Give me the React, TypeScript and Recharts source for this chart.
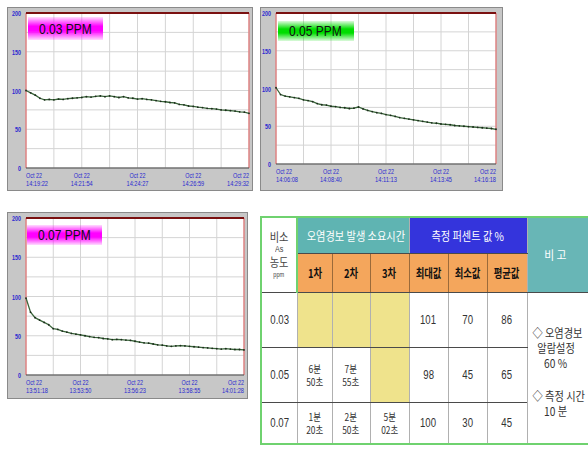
import React from 'react';
import { LineChart, Line, XAxis, YAxis, CartesianGrid, ReferenceLine } from 'recharts';

// readings (%), 49 samples across each 10 minute window
const ppm03 = [
  100, 97, 94, 90, 88, 88.5, 88, 89, 88.5, 89.5, 90, 90.5, 91, 92, 91.5, 92.5, 93,
  92, 93, 92, 91, 92, 90.5, 90, 89, 89.5, 88.5, 88, 87, 86, 85.5, 84.5, 84, 82,
  81.5, 80, 79.5, 78.5, 78, 77, 76.5, 76, 75, 74.5, 74, 73.5, 72.5, 72, 70.5,
];
const ppm05 = [
  101, 92, 90, 89, 88, 87, 85, 84, 82.5, 80, 78.5, 78, 76.5, 76, 75, 74.5, 73.5,
  74, 75.5, 73, 71, 69.5, 68, 67, 65.5, 64.5, 63, 61.5, 60.5, 59.5, 58.5, 57.5,
  56.5, 55.5, 54.5, 54, 53, 52.5, 52, 51, 50.5, 50, 49.5, 49, 48.5, 48, 47.5, 47, 46,
];
const ppm07 = [
  98, 80, 73, 70, 67, 64, 59, 58, 56, 54.5, 53, 52, 51, 50, 49, 48, 47.5, 46.5,
  46, 45, 45.5, 45, 44.5, 44, 43, 42, 41, 40.5, 39.5, 38.5, 38, 37, 36.5, 37,
  37.5, 37, 36.5, 36, 35.5, 35, 34.5, 34, 33.5, 33, 33.5, 33, 32.5, 32.5, 32,
];

const dateLabel = 'Oct 22';
const times03 = ['14:19:22', '14:21:54', '14:24:27', '14:26:59', '14:29:32'];
const times05 = ['14:06:08', '14:08:40', '14:11:13', '14:13:45', '14:16:18'];
const times07 = ['13:51:18', '13:53:50', '13:56:23', '13:58:55', '14:01:28'];

const yTicks = [0, 25, 50, 75, 100, 125, 150, 175, 200];
const xGrid = [0, 6, 12, 18, 24, 30, 36, 42, 48];

// table
const concentrations = ['0.03', '0.05', '0.07'];
const alarmTimes: (string[] | null)[][] = [
  [null, null, null],
  [['6분', '50초'], ['7분', '55초'], null],
  [['1분', '20초'], ['2분', '50초'], ['5분', '02초']],
];
const maxVals = [101, 98, 100];
const minVals = [70, 45, 30];
const avgVals = [86, 65, 45];
const stageNames = ['1차', '2차', '3차'];
const statNames = ['최대값', '최소값', '평균값'];

const TICK_FONT = '"Liberation Sans", Arial, sans-serif';
const KR_FONT = '"Noto Sans CJK KR", sans-serif';

function XTick({ x, y, payload, times }: any) {
  const v = payload.value;
  if (v % 12 !== 0) return <g />;
  const anchor = v === 0 ? 'start' : v === 48 ? 'end' : 'middle';
  return (
    <g fill="#2b2bd0" fontSize={7} fontFamily={TICK_FONT}>
      <text x={x} y={y + 8} textAnchor={anchor} textLength={16} lengthAdjust="spacingAndGlyphs">{dateLabel}</text>
      <text x={x} y={y + 15.5} textAnchor={anchor} textLength={22} lengthAdjust="spacingAndGlyphs">{times[v / 12]}</text>
    </g>
  );
}

function YTick({ x, y, payload }: any) {
  if (payload.value % 50 !== 0) return <g />;
  const s = String(payload.value);
  return (
    <text x={x - 3} y={y + 3} textAnchor="end" fill="#2b2bd0" fontSize={8} fontWeight="bold"
      fontFamily={TICK_FONT} textLength={s.length * 3} lengthAdjust="spacingAndGlyphs">
      {s}
    </text>
  );
}

function Panel({ values, times, label, tint, box, plot, tag }: any) {
  const data = values.map((v: number, i: number) => ({ i, v }));
  return (
    <div style={{
      position: 'absolute', left: box.x, top: box.y, width: box.w, height: box.h,
      background: '#c7c7c7', boxShadow: 'inset 0 0 0 1px #8a8a8a',
    }}>
      <LineChart width={box.w} height={box.h} data={data}
        margin={{ top: plot.top, right: plot.right, left: 0, bottom: 0 }}>
        <CartesianGrid fill="#ffffff" stroke="#d4d4d4" />
        <XAxis dataKey="i" type="number" domain={[0, 48]} ticks={xGrid} interval={0}
          height={plot.bottom} axisLine={false} tickLine={false} tickSize={0}
          tick={(p: any) => <XTick {...p} times={times} />} />
        <YAxis type="number" domain={[0, 200]} ticks={yTicks} interval={0}
          width={plot.left} axisLine={false} tickLine={false} tickSize={0}
          tick={(p: any) => <YTick {...p} />} />
        <ReferenceLine x={0} stroke="#e35a5a" />
        <ReferenceLine x={48} stroke="#e35a5a" />
        <ReferenceLine y={200} stroke="#7a1010" strokeWidth={2} />
        <ReferenceLine y={0} stroke="#404040" />
        <Line dataKey="v" stroke="#3a663a" strokeWidth={1.3} isAnimationActive={false}
          dot={{ r: 0.9, fill: '#1c2a1c', stroke: 'none' }} />
      </LineChart>
      <div style={{
        position: 'absolute', left: tag.x, top: tag.y, width: tag.w, height: tag.h,
        background: `linear-gradient(to bottom, ${tint}22, ${tint} 40%, ${tint} 60%, ${tint}22)`,
        overflow: 'hidden',
      }}>
        <span style={{
          position: 'absolute', left: 11, top: 0, lineHeight: `${tag.h}px`, whiteSpace: 'nowrap',
          fontFamily: TICK_FONT, fontSize: 15, color: '#111',
          transform: 'scaleX(0.8)', transformOrigin: 'left center',
        }}>{label}</span>
      </div>
    </div>
  );
}

const cellBase: React.CSSProperties = {
  textAlign: 'center', verticalAlign: 'middle', padding: 0, whiteSpace: 'nowrap',
  fontFamily: KR_FONT, fontSize: 11, color: '#333',
  borderLeft: '1px solid #b0b0b0', borderRight: '1px solid #b0b0b0',
};

// horizontally condensed text, like the bitmap font of the source
function Nar({ children, k = 0.8 }: any) {
  return <span style={{ display: 'inline-block', transform: `scaleX(${k})` }}>{children}</span>;
}

function TwoLine({ lines }: { lines: string[] | null }) {
  if (!lines) return null;
  return (
    <div style={{ fontSize: 10.5 }}>
      <div style={{ lineHeight: '13px' }}><Nar>{lines[0]}</Nar></div>
      <div style={{ lineHeight: '13px' }}><Nar>{lines[1]}</Nar></div>
    </div>
  );
}

function ResultTable() {
  const colW = [36, 35, 38, 39, 39, 39, 40, 70];
  const rowH = [36, 39, 55, 55, 42];
  const hdrTeal = '#5fb4b2';
  const hdrBlue = '#3434dc';
  const orange = '#f4a65c';
  const yellow = '#efe38c';
  const dark = '1px solid #4a4a4a';
  const num: React.CSSProperties = { ...cellBase, fontFamily: TICK_FONT, fontSize: 12, borderBottom: dark };
  return (
    <div style={{ position: 'absolute', left: 260, top: 216, width: 328, height: 237, overflow: 'hidden' }}>
      <table style={{
        borderCollapse: 'collapse', tableLayout: 'fixed', width: colW.reduce((a, b) => a + b, 0),
        border: '2px solid #6fd26f',
      }}>
        <colgroup>{colW.map((w, i) => <col key={i} style={{ width: w }} />)}</colgroup>
        <tbody>
          <tr style={{ height: rowH[0] }}>
            <td rowSpan={2} style={{ ...cellBase, background: '#fff', color: '#444', borderBottom: dark, borderRight: '2px solid #6fd26f' }}>
              <div style={{ fontSize: 12, lineHeight: '14px' }}><Nar k={0.85}>비소</Nar></div>
              <div style={{ fontSize: 9, lineHeight: '10px', fontFamily: TICK_FONT }}><Nar>As</Nar></div>
              <div style={{ fontSize: 12, lineHeight: '16px' }}><Nar k={0.85}>농도</Nar></div>
              <div style={{ fontSize: 7, lineHeight: '10px', fontFamily: TICK_FONT }}><Nar>ppm</Nar></div>
            </td>
            <td colSpan={3} style={{ ...cellBase, background: hdrTeal, color: '#fff', fontSize: 12, borderBottom: dark }}><Nar k={0.85}>오염경보 발생 소요시간</Nar></td>
            <td colSpan={3} style={{ ...cellBase, background: hdrBlue, color: '#fff', fontSize: 12, borderBottom: dark }}><Nar k={0.85}>측정 퍼센트 값 %</Nar></td>
            <td rowSpan={2} style={{ ...cellBase, background: '#68b6b6', color: '#fff', fontSize: 12, borderBottom: dark, paddingRight: 12 }}><Nar k={0.9}>비 고</Nar></td>
          </tr>
          <tr style={{ height: rowH[1] }}>
            {[...stageNames, ...statNames].map((n) => (
              <td key={n} style={{ ...cellBase, background: orange, color: '#111', fontWeight: 'bold', fontSize: 12, borderLeft: '1px solid #9a6a3a', borderRight: '1px solid #9a6a3a', borderBottom: dark }}><Nar k={0.78}>{n}</Nar></td>
            ))}
          </tr>
          {concentrations.map((c, r) => (
            <tr key={c} style={{ height: rowH[r + 2] }}>
              <td style={num}><Nar>{c}</Nar></td>
              {alarmTimes[r].map((t, k) => (
                <td key={k} style={{ ...cellBase, background: t ? '#fff' : yellow, borderBottom: dark }}><TwoLine lines={t} /></td>
              ))}
              <td style={num}><Nar>{maxVals[r]}</Nar></td>
              <td style={num}><Nar>{minVals[r]}</Nar></td>
              <td style={num}><Nar>{avgVals[r]}</Nar></td>
              {r === 0 && (
                <td rowSpan={3} style={{ ...cellBase, fontSize: 12, lineHeight: '15px', paddingTop: 8, paddingRight: 12 }}>
                  <div><Nar k={0.85}>◇ 오염경보</Nar></div>
                  <div><Nar k={0.85}>알람설정</Nar></div>
                  <div><Nar k={0.85}>60 %</Nar></div>
                  <div style={{ height: 18 }} />
                  <div><Nar k={0.85}>◇ 측정 시간</Nar></div>
                  <div><Nar k={0.85}>10 분</Nar></div>
                </td>
              )}
            </tr>
          ))}
        </tbody>
      </table>
    </div>
  );
}

export default function App() {
  return (
    <div style={{ position: 'absolute', left: 0, top: 0, width: 588, height: 453, background: '#fff', overflow: 'hidden' }}>
      <Panel values={ppm03} times={times03} label="0.03 PPM" tint="#ff00ff"
        box={{ x: 7, y: 7, w: 246, h: 184 }} plot={{ left: 19, top: 6, right: 4, bottom: 23 }}
        tag={{ x: 21, y: 10, w: 75, h: 23 }} />
      <Panel values={ppm05} times={times05} label="0.05 PPM" tint="#00dd00"
        box={{ x: 260, y: 7, w: 243, h: 184 }} plot={{ left: 16, top: 6, right: 7, bottom: 27 }}
        tag={{ x: 18, y: 14, w: 76, h: 20 }} />
      <Panel values={ppm07} times={times07} label="0.07 PPM" tint="#ff00ff"
        box={{ x: 7, y: 212, w: 241, h: 187 }} plot={{ left: 19, top: 6, right: 4, bottom: 24 }}
        tag={{ x: 20, y: 13, w: 75, h: 20 }} />
      <ResultTable />
    </div>
  );
}
